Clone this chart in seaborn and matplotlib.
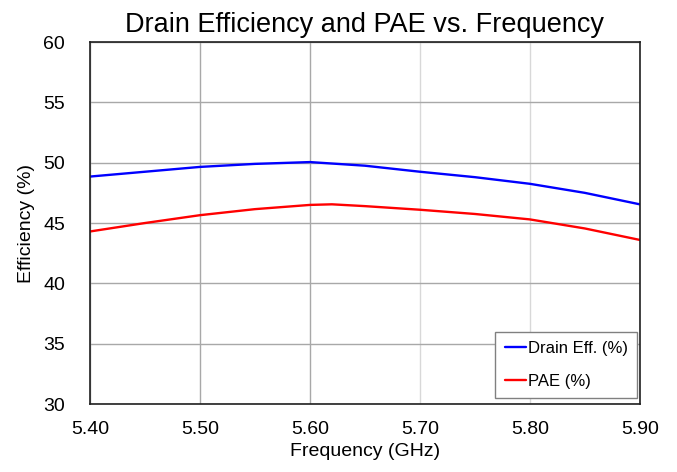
import numpy as np
import pandas as pd
import matplotlib.pyplot as plt
import seaborn as sns

# data
freq_de = [5.40, 5.45, 5.50, 5.55, 5.60, 5.65, 5.70, 5.75, 5.80, 5.85, 5.90]
drain_eff = [48.85, 49.25, 49.65, 49.9, 50.05, 49.75, 49.25, 48.8, 48.25, 47.5, 46.55]
freq_pae = [5.40, 5.45, 5.50, 5.55, 5.60, 5.62, 5.65, 5.70, 5.75, 5.80, 5.85, 5.90]
pae = [44.3, 45.0, 45.65, 46.15, 46.5, 46.55, 46.4, 46.1, 45.75, 45.3, 44.55, 43.6]
x_ticks = [5.40, 5.50, 5.60, 5.70, 5.80, 5.90]
y_ticks = [30, 35, 40, 45, 50, 55, 60]

df = pd.concat([
    pd.DataFrame({'Frequency': freq_de, 'Efficiency': drain_eff, 'Series': 'Drain Eff. (%)'}),
    pd.DataFrame({'Frequency': freq_pae, 'Efficiency': pae, 'Series': 'PAE (%)'}),
])

sns.set_style('white')
plt.rcParams['font.family'] = ['Liberation Sans', 'DejaVu Sans']
plt.rcParams['text.color'] = 'black'
plt.rcParams['axes.labelcolor'] = 'black'
plt.rcParams['xtick.color'] = 'black'
plt.rcParams['ytick.color'] = 'black'

fig = plt.figure(figsize=(6.77, 4.72), dpi=100)
ax = fig.add_axes([0.133, 0.144, 0.812, 0.767])

sns.lineplot(data=df, x='Frequency', y='Efficiency', hue='Series',
             palette={'Drain Eff. (%)': '#0000ff', 'PAE (%)': '#ff0000'},
             linewidth=1.7, ax=ax)

ax.set_xlim(5.40, 5.90)
ax.set_ylim(30, 60)
ax.set_xticks(x_ticks)
ax.set_xticklabels([f'{t:.2f}' for t in x_ticks])
ax.set_yticks(y_ticks)
ax.grid(True, color='#a8a8a8', linewidth=1.0)
# the two right-hand vertical grid lines are lighter in the reference
for gl in ax.get_xgridlines()[3:5]:
    gl.set_color('#d8d8d8')
ax.tick_params(axis='both', length=0, labelsize=14)
ax.tick_params(axis='y', pad=18)
ax.tick_params(axis='x', pad=12)
for s in ax.spines.values():
    s.set_color('#202020')
    s.set_linewidth(1.2)

ax.set_title('Drain Efficiency and PAE vs. Frequency', fontsize=19.5, pad=7)
ax.set_xlabel('Frequency (GHz)', fontsize=14, labelpad=4)
ax.set_ylabel('Efficiency (%)', fontsize=14, labelpad=6)

leg = ax.legend(loc='lower right', fontsize=12, handlelength=1.3, handletextpad=0.1,
                labelspacing=1.05, fancybox=False, framealpha=1, borderpad=0.55,
                borderaxespad=0, bbox_to_anchor=(0.995, 0.017))
leg.get_frame().set_edgecolor('#808080')

fig.savefig('out.png', dpi=100)
